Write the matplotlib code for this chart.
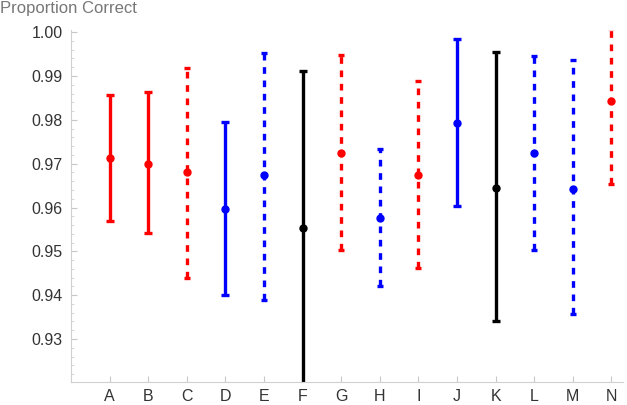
import numpy as np
import matplotlib.pyplot as plt
from matplotlib.ticker import MultipleLocator, FormatStrFormatter

plt.rcParams['font.family'] = ['Liberation Sans', 'DejaVu Sans']

# data
labels = ["A", "B", "C", "D", "E", "F", "G", "H", "I", "J", "K", "L", "M", "N"]
means = [0.9714, 0.9700, 0.9682, 0.9597, 0.9674, 0.9553, 0.9725,
         0.9577, 0.9674, 0.9793, 0.9644, 0.9725, 0.9642, 0.9844]
upper = [0.9857, 0.9863, 0.9918, 0.9795, 0.9953, 0.9911, 0.9947,
         0.9734, 0.9889, 0.9984, 0.9954, 0.9945, 0.9936, 1.0010]
lower = [0.9570, 0.9543, 0.9440, 0.9401, 0.9390, 0.9150, 0.9503,
         0.9421, 0.9463, 0.9604, 0.9341, 0.9503, 0.9358, 0.9654]
colors = ["red", "red", "red", "blue", "blue", "black", "red",
          "blue", "red", "blue", "black", "blue", "blue", "red"]
dashed = [False, False, True, False, True, False, True,
          True, True, False, False, True, True, True]

fig = plt.figure(figsize=(6.27, 4.05), dpi=100)
ax = fig.add_axes([0.1132, 0.0568, 0.8804, 0.8692])

x = np.arange(1, len(labels) + 1)
for i in range(len(labels)):
    m = means[i]
    err = [[m - lower[i]], [upper[i] - m]]
    line, caps, bars = ax.errorbar(x[i], m, yerr=err, fmt='o', color=colors[i],
                                   ms=5, elinewidth=2.4, capsize=3, capthick=2.4)
    if dashed[i]:
        bars[0].set_linestyle((0, (2.0, 2.0)))
        bars[0].set_capstyle('butt')
        for c in caps:
            c.set_markersize(5)

ax.set_xlim(0, 14.3)
ax.set_ylim(0.9202, 1.0005)
ax.set_xticks(x)
ax.set_xticklabels(labels)
ax.yaxis.set_major_locator(MultipleLocator(0.01))
ax.yaxis.set_minor_locator(MultipleLocator(0.002))
ax.yaxis.set_major_formatter(FormatStrFormatter('%.2f'))

for s in ['top', 'right']:
    ax.spines[s].set_visible(False)
for s in ['left', 'bottom']:
    ax.spines[s].set_color('#d0d0d0')
    ax.spines[s].set_linewidth(0.8)

ax.tick_params(axis='both', which='major', direction='in', length=4,
               color='#c8c8c8', labelcolor='#333333', labelsize=11.5, pad=6)
ax.tick_params(axis='y', which='minor', direction='in', length=2.5, color='#d0d0d0')
ax.tick_params(axis='x', pad=5)

fig.text(0.0, 0.98, "Proportion Correct", color='#777777', fontsize=12,
         ha='left', va='center')

fig.savefig("out.png", dpi=100)
